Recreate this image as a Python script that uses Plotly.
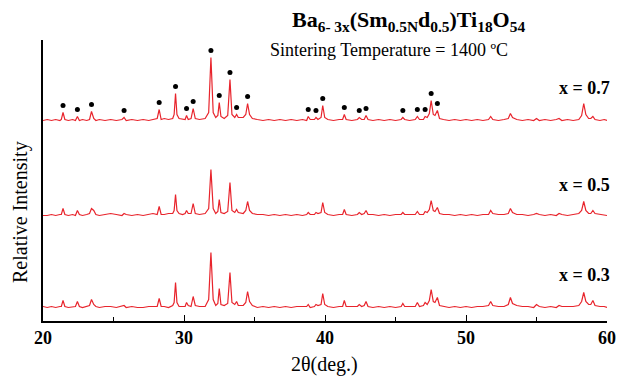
import numpy as np
import plotly.graph_objects as go

# ---------------- data ----------------
two_theta = [
    20.0, 20.3, 20.6, 20.9, 21.2, 21.3, 21.42, 21.55, 21.8, 22.1, 22.3, 22.44, 22.58, 22.8,
    23.1, 23.3, 23.44, 23.6, 23.75, 24.0, 24.4, 24.8, 25.2, 25.6, 25.75, 25.9, 26.3, 26.7,
    27.1, 27.5, 27.8, 28.1, 28.24, 28.38, 28.6, 28.9, 29.2, 29.3, 29.40, 29.5, 29.65, 29.9,
    30.08, 30.18, 30.3, 30.5, 30.65, 30.8, 31.1, 31.5, 31.75, 31.91, 32.07, 32.25, 32.4,
    32.50, 32.62, 32.85, 33.1, 33.26, 33.4, 33.6, 33.73, 33.85, 34.2, 34.38, 34.51, 34.65,
    34.85, 35.2, 35.6, 36.0, 36.4, 36.8, 37.2, 37.6, 38.0, 38.4, 38.7, 38.81, 38.95, 39.25,
    39.36, 39.5, 39.72, 39.84, 39.98, 40.2, 40.6, 41.0, 41.25, 41.37, 41.5, 41.9, 42.3,
    42.43, 42.6, 42.78, 42.91, 43.05, 43.4, 43.8, 44.2, 44.6, 45.0, 45.4, 45.52, 45.65,
    46.0, 46.4, 46.55, 46.7, 46.98, 47.10, 47.25, 47.4, 47.53, 47.68, 47.8, 47.97, 48.12,
    48.4, 48.8, 49.2, 49.6, 50.0, 50.4, 50.8, 51.2, 51.6, 51.75, 51.9, 52.3, 52.7, 53.0,
    53.15, 53.3, 53.6, 54.0, 54.4, 54.8, 55.0, 55.2, 55.6, 56.0, 56.4, 56.6, 56.8, 57.2,
    57.6, 58.0, 58.2, 58.35, 58.5, 58.7, 58.85, 59.0, 59.15, 59.5, 59.8, 60.0,
]

intensity_x07 = [
    0, 1, 0, 1, 0, 1, 8, 1, 0, 1, 0, 4, 0, 1,
    0, 1, 9, 2, 0, 1, 0, 1, 0, 1, 3, 0, 1, 0,
    1, 0, 1, 2, 11, 1, 2, 1, 2, 6, 27, 6, 2, 1,
    1, 5, 1, 2, 12, 2, 1, 2, 8, 63, 8, 3, 5,
    18, 4, 2, 5, 41, 6, 3, 6, 3, 3, 6, 17, 6,
    2, 1, 0, 1, 0, 1, 0, 1, 0, 1, 0, 4, 1, 1,
    3, 1, 3, 15, 3, 1, 0, 1, 1, 6, 1, 0, 1,
    3, 1, 1, 5, 1, 0, 1, 0, 1, 0, 1, 3, 1,
    0, 1, 4, 1, 1, 4, 3, 7, 20, 6, 5, 10, 2,
    1, 0, 1, 0, 1, 0, 1, 0, 1, 4, 1, 0, 1, 2,
    7, 3, 1, 0, 1, 0, 2, 0, 1, 0, 1, 2, 0, 1,
    0, 1, 5, 17, 6, 2, 2, 4, 1, 0, 1, 0,
]

intensity_x05 = [
    0, 0, 1, 0, 1, 1, 7, 1, 0, 1, 0, 5, 1, 0,
    1, 2, 7, 5, 1, 0, 1, 2, 1, 0, 2, 1, 0, 1,
    0, 1, 2, 1, 9, 1, 1, 2, 2, 5, 21, 5, 2, 1,
    2, 5, 2, 2, 12, 2, 1, 2, 7, 46, 7, 2, 4,
    16, 3, 2, 4, 33, 5, 3, 6, 3, 2, 5, 14, 5,
    2, 1, 1, 0, 1, 0, 1, 0, 1, 0, 1, 3, 1, 1,
    3, 2, 3, 13, 3, 1, 0, 1, 1, 6, 1, 0, 1,
    3, 1, 2, 5, 1, 1, 0, 1, 0, 1, 1, 3, 1,
    1, 1, 4, 1, 1, 4, 3, 6, 15, 5, 4, 8, 2,
    1, 1, 0, 1, 0, 1, 0, 1, 1, 5, 2, 1, 1, 2,
    7, 3, 1, 1, 0, 1, 2, 1, 0, 1, 0, 2, 1, 0,
    1, 2, 5, 14, 5, 2, 2, 5, 2, 1, 0, 0,
]

intensity_x03 = [
    1, 0, 1, 0, 1, 1, 7, 1, 0, 1, 1, 6, 1, 0,
    1, 2, 8, 3, 1, 0, 1, 1, 0, 1, 2, 0, 1, 0,
    0, 1, 1, 1, 9, 1, 1, 0, 2, 5, 25, 5, 1, 1,
    1, 5, 2, 1, 11, 2, 1, 1, 8, 55, 8, 2, 4,
    19, 3, 2, 4, 35, 5, 3, 6, 2, 2, 5, 16, 6,
    2, 0, 1, 0, 1, 0, 1, 0, 1, 1, 1, 3, 0, 1,
    3, 2, 3, 14, 3, 1, 0, 1, 1, 7, 1, 1, 1,
    3, 1, 2, 6, 1, 0, 1, 0, 1, 0, 1, 4, 1,
    1, 1, 5, 1, 2, 5, 3, 7, 18, 6, 5, 10, 2,
    1, 0, 1, 0, 1, 0, 1, 1, 2, 6, 2, 1, 1, 3,
    10, 4, 2, 1, 1, 0, 3, 1, 0, 1, 0, 2, 1, 1,
    1, 2, 6, 15, 6, 3, 3, 7, 2, 1, 1, 0,
]

series_labels = ["x = 0.7", "x = 0.5", "x = 0.3"]
series_data = [intensity_x07, intensity_x05, intensity_x03]
series_offsets = [200.5, 105.5, 13.5]

# phase reflections marked with black dots on the x = 0.7 pattern
marked_peaks = [21.42, 22.44, 23.44, 25.75, 28.24, 29.40, 30.18, 30.65, 31.91, 32.50,
                33.26, 33.73, 34.51, 38.81, 39.36, 39.84, 41.37, 42.43, 42.91, 45.52,
                46.55, 47.10, 47.53, 47.97]

x_ticks = [20, 30, 40, 50, 60]

# ---------------- layout geometry ----------------
W, H = 618, 377
L, R, T, B = 43, 607, 40, 321
YMAX = B - T
LINE_COLOR = "#e8242c"
SERIF = "Liberation Serif, Times New Roman, serif"

def px(xp):
    return (xp - L) / (R - L)

def py(yp):
    return (B - yp) / (B - T)

fig = go.Figure()

tt = np.array(two_theta)
for lab, vals, off in zip(series_labels, series_data, series_offsets):
    fig.add_trace(go.Scatter(x=two_theta, y=np.array(vals, float) + off, mode="lines",
                             line=dict(color=LINE_COLOR, width=1.2), showlegend=False,
                             hoverinfo="skip"))

# dots above the marked reflections
v07 = np.array(intensity_x07, float) + series_offsets[0]
dot_y = []
for p in marked_peaks:
    m = np.abs(tt - p) <= 0.06
    dot_y.append(v07[m].max() + 7)
fig.add_trace(go.Scatter(x=marked_peaks, y=dot_y, mode="markers",
                         marker=dict(color="black", size=5), showlegend=False,
                         hoverinfo="skip"))

ann = []
ann.append(dict(x=px(290), y=py(21), xref="paper", yref="paper", showarrow=False,
                text="<b>Ba<sub>6- 3x</sub>(Sm<sub>0.5N</sub>d<sub>0.5</sub>)Ti<sub>18</sub>O<sub>54</sub></b>",
                font=dict(family=SERIF, size=22, color="black"), xanchor="left", yanchor="middle"))
ann.append(dict(x=px(389), y=py(50), xref="paper", yref="paper", showarrow=False,
                text="Sintering Temperature = 1400 ºC",
                font=dict(family=SERIF, size=18, color="black"), xanchor="center", yanchor="middle"))
for lab, yp in zip(series_labels, [88, 185, 275]):
    ann.append(dict(x=px(612), y=py(yp), xref="paper", yref="paper", showarrow=False,
                    text="<b>" + lab + "</b>",
                    font=dict(family=SERIF, size=18, color="black"), xanchor="right", yanchor="middle"))
ann.append(dict(x=px(20), y=py(212), xref="paper", yref="paper", showarrow=False,
                text="Relative Intensity", textangle=-90,
                font=dict(family=SERIF, size=20, color="black"), xanchor="center", yanchor="middle"))
ann.append(dict(x=px(324), y=py(364), xref="paper", yref="paper", showarrow=False,
                text="2θ(deg.)",
                font=dict(family=SERIF, size=20, color="black"), xanchor="center", yanchor="middle"))

fig.update_layout(
    width=W, height=H,
    margin=dict(l=L, r=W - R, t=T, b=H - B, autoexpand=False),
    paper_bgcolor="white", plot_bgcolor="white",
    annotations=ann,
    xaxis=dict(range=[20, 60], tickvals=x_ticks, ticktext=[str(v) for v in x_ticks],
               automargin=False,
               ticks="inside", ticklen=6, tickwidth=1.3, tickcolor="black",
               showline=True, linecolor="black", linewidth=1.5, showgrid=False, zeroline=False,
               tickfont=dict(family=SERIF, size=18, color="black", weight="bold"),
               minor=dict(ticks="inside", ticklen=4, dtick=5, tickcolor="black", tickwidth=1.3, showgrid=False)),
    yaxis=dict(range=[0, YMAX], showline=True, linecolor="black", linewidth=1.5, automargin=False,
               showticklabels=False, ticks="", showgrid=False, zeroline=False),
)

fig.write_html("out.html")
